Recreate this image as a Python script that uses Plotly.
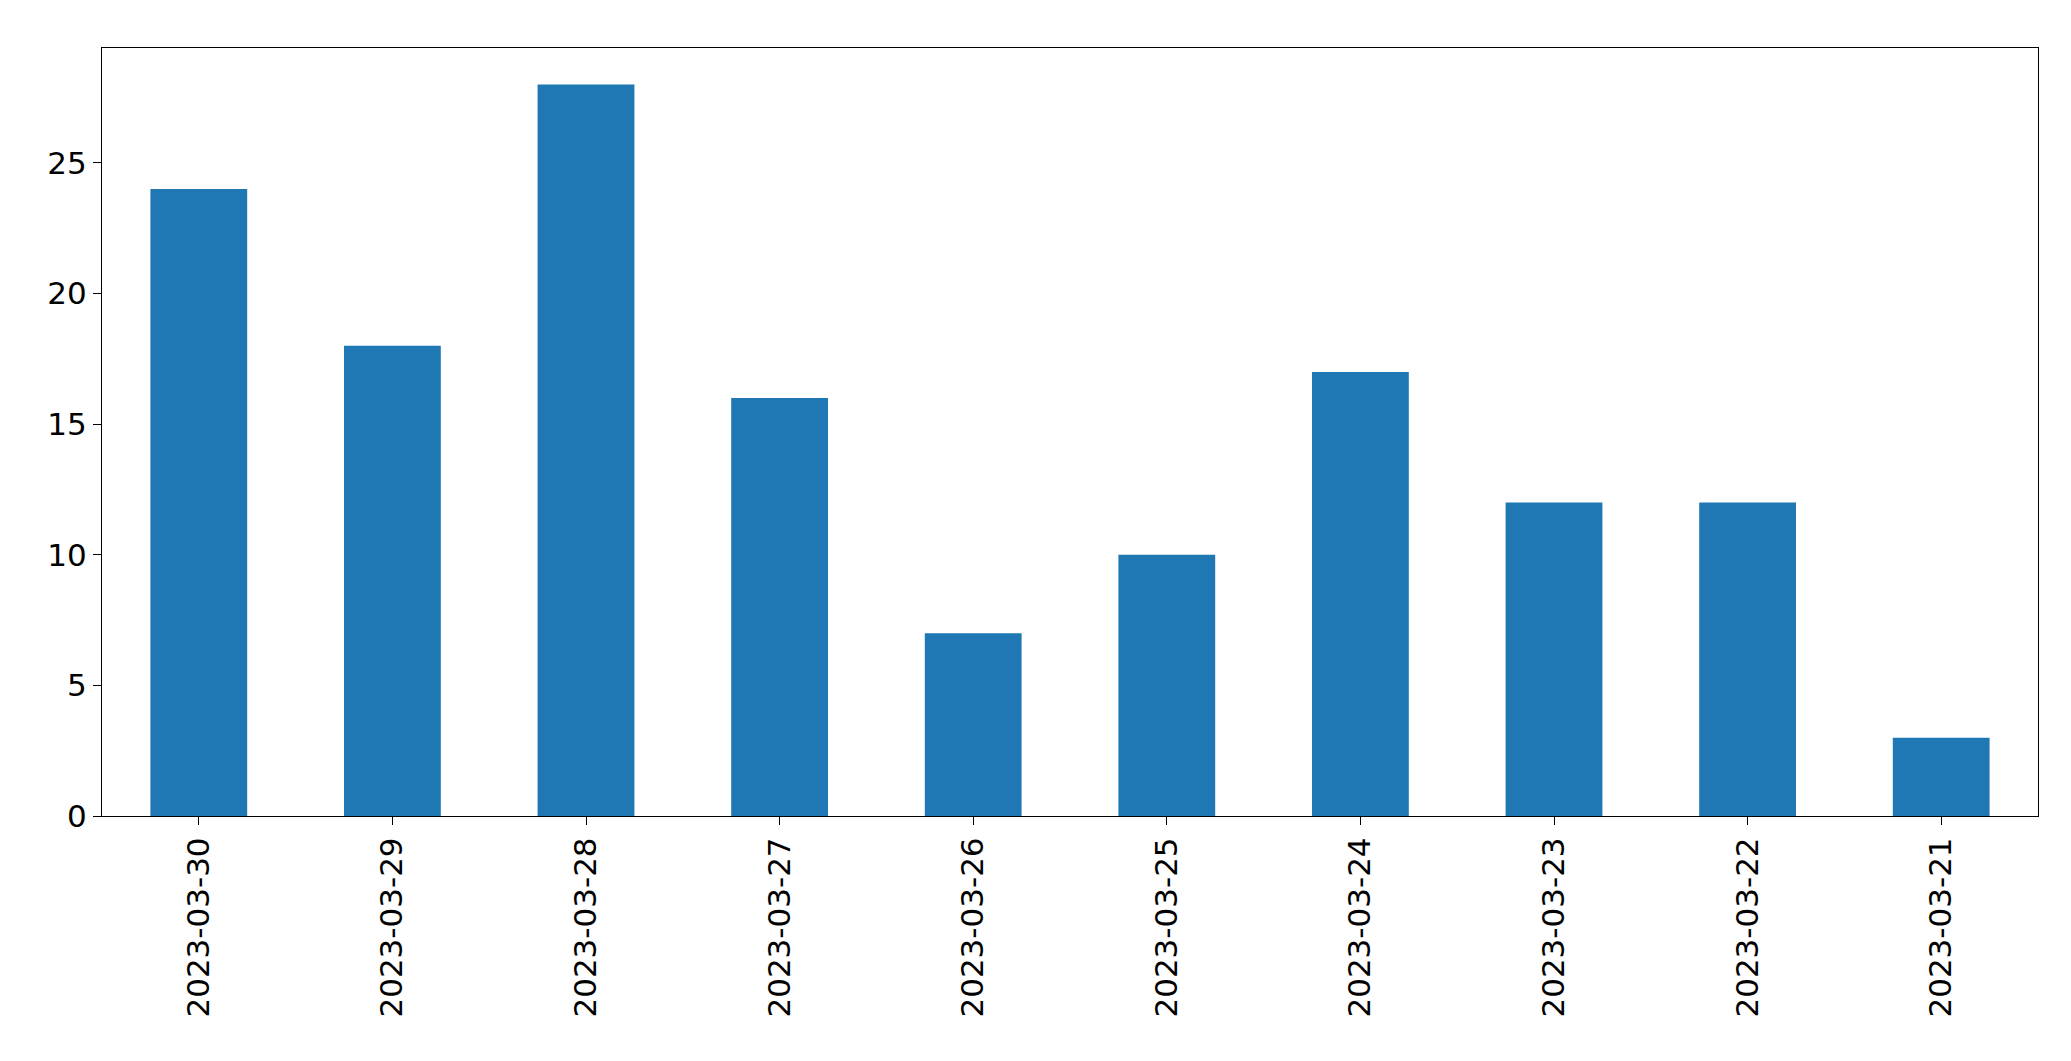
import plotly.graph_objects as go

dates = ["2023-03-30","2023-03-29","2023-03-28","2023-03-27","2023-03-26",
         "2023-03-25","2023-03-24","2023-03-23","2023-03-22","2023-03-21"]
counts = [24, 18, 28, 16, 7, 10, 17, 12, 12, 3]

fig = go.Figure(go.Bar(x=dates, y=counts, marker_color="#1f77b4", width=0.5,
                       marker_line_width=0))
axis = dict(showline=True, linecolor="black", linewidth=1, mirror=True,
            ticks="outside", ticklen=8, tickcolor="black", showgrid=False,
            zeroline=False, tickfont=dict(family="DejaVu Sans", size=31, color="black"))
fig.update_xaxes(type="category", range=[-0.5, 9.5], tickangle=-90, **axis)
fig.update_yaxes(range=[0, 29.4], tickvals=[0,5,10,15,20,25], **axis)
fig.update_layout(width=2071, height=1061, plot_bgcolor="white", paper_bgcolor="white",
                  margin=dict(l=94, r=41, t=40, b=253), showlegend=False)
fig.write_html("out.html")
